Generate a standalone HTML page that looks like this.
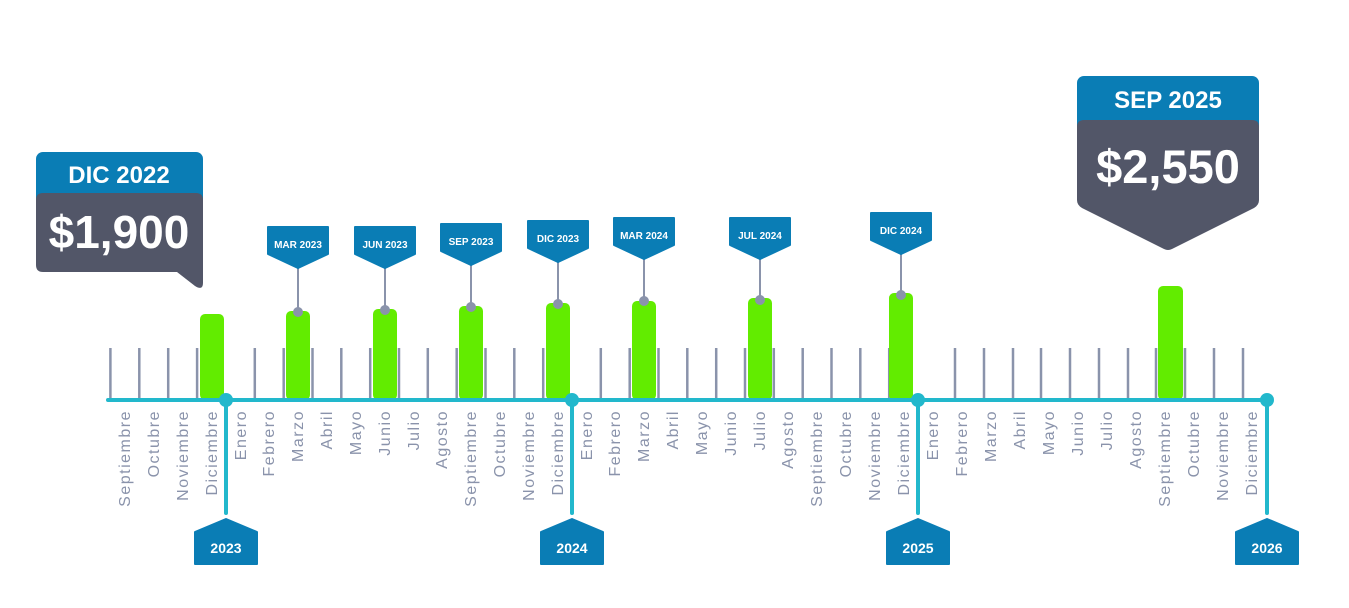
<!DOCTYPE html>
<html><head><meta charset="utf-8"><style>
html,body{margin:0;padding:0;background:#fff;}
svg{display:block;font-family:"Liberation Sans",sans-serif;}
.m{font-size:16px;fill:#8a93ab;text-anchor:end;letter-spacing:1.5px;}
.tg{font-size:10px;font-weight:bold;fill:#fff;text-anchor:middle;}
.yr{font-size:14px;font-weight:bold;fill:#fff;text-anchor:middle;}
</style></head><body>
<svg width="1349" height="608" viewBox="0 0 1349 608">
<g stroke="#8a93ab" stroke-width="2.5">
<line x1="110.4" y1="348" x2="110.4" y2="400"/><line x1="139.3" y1="348" x2="139.3" y2="400"/><line x1="168.2" y1="348" x2="168.2" y2="400"/><line x1="197.1" y1="348" x2="197.1" y2="400"/>
<line x1="254.8" y1="348" x2="254.8" y2="400"/><line x1="283.7" y1="348" x2="283.7" y2="400"/><line x1="312.5" y1="348" x2="312.5" y2="400"/><line x1="341.3" y1="348" x2="341.3" y2="400"/><line x1="370.2" y1="348" x2="370.2" y2="400"/><line x1="399" y1="348" x2="399" y2="400"/><line x1="427.8" y1="348" x2="427.8" y2="400"/><line x1="456.7" y1="348" x2="456.7" y2="400"/><line x1="485.5" y1="348" x2="485.5" y2="400"/><line x1="514.3" y1="348" x2="514.3" y2="400"/><line x1="543.2" y1="348" x2="543.2" y2="400"/>
<line x1="600.8" y1="348" x2="600.8" y2="400"/><line x1="629.7" y1="348" x2="629.7" y2="400"/><line x1="658.5" y1="348" x2="658.5" y2="400"/><line x1="687.3" y1="348" x2="687.3" y2="400"/><line x1="716.2" y1="348" x2="716.2" y2="400"/><line x1="745" y1="348" x2="745" y2="400"/><line x1="773.8" y1="348" x2="773.8" y2="400"/><line x1="802.7" y1="348" x2="802.7" y2="400"/><line x1="831.5" y1="348" x2="831.5" y2="400"/><line x1="860.3" y1="348" x2="860.3" y2="400"/><line x1="889.2" y1="348" x2="889.2" y2="400"/>
<line x1="955" y1="348" x2="955" y2="400"/><line x1="984" y1="348" x2="984" y2="400"/><line x1="1013" y1="348" x2="1013" y2="400"/><line x1="1041" y1="348" x2="1041" y2="400"/><line x1="1070" y1="348" x2="1070" y2="400"/><line x1="1099" y1="348" x2="1099" y2="400"/><line x1="1128" y1="348" x2="1128" y2="400"/><line x1="1156" y1="348" x2="1156" y2="400"/><line x1="1185" y1="348" x2="1185" y2="400"/><line x1="1214" y1="348" x2="1214" y2="400"/><line x1="1243" y1="348" x2="1243" y2="400"/>
</g>
<g fill="#62ec00">
<rect x="200" y="314" width="24" height="86" rx="5"/>
<rect x="286" y="311" width="24" height="89" rx="5"/>
<rect x="373" y="309" width="24" height="91" rx="5"/>
<rect x="459" y="306" width="24" height="94" rx="5"/>
<rect x="546" y="303" width="24" height="97" rx="5"/>
<rect x="632" y="301" width="24" height="99" rx="5"/>
<rect x="748" y="298" width="24" height="102" rx="5"/>
<rect x="889" y="293" width="24" height="107" rx="5"/>
<rect x="1158" y="286" width="25" height="114" rx="5"/>
</g>
<g stroke="#22b8cc" stroke-width="4" stroke-linecap="round" fill="#22b8cc">
<line x1="108" y1="400" x2="1267" y2="400"/>
<line x1="226" y1="400" x2="226" y2="513"/>
<line x1="572" y1="400" x2="572" y2="513"/>
<line x1="918" y1="400" x2="918" y2="513"/>
<line x1="1267" y1="400" x2="1267" y2="513"/>
<circle cx="226" cy="400" r="7" stroke="none"/><circle cx="572" cy="400" r="7" stroke="none"/><circle cx="918" cy="400" r="7" stroke="none"/><circle cx="1267" cy="400" r="7" stroke="none"/>
</g>
<g fill="#0a7db5" stroke="#0a7db5" stroke-width="2" stroke-linejoin="round">
<polygon points="195,532 226,519 257,532 257,564 195,564"/>
<polygon points="541,532 572,519 603,532 603,564 541,564"/>
<polygon points="887,532 918,519 949,532 949,564 887,564"/>
<polygon points="1236,532 1267,519 1298,532 1298,564 1236,564"/>
</g>
<text class="yr" x="226" y="553">2023</text><text class="yr" x="572" y="553">2024</text><text class="yr" x="918" y="553">2025</text><text class="yr" x="1267" y="553">2026</text>
<g class="m">
<text transform="translate(130,410) rotate(-90)">Septiembre</text>
<text transform="translate(159,410) rotate(-90)">Octubre</text>
<text transform="translate(188,410) rotate(-90)">Noviembre</text>
<text transform="translate(217,410) rotate(-90)">Diciembre</text>
<text transform="translate(246,410) rotate(-90)">Enero</text>
<text transform="translate(274,410) rotate(-90)">Febrero</text>
<text transform="translate(303,410) rotate(-90)">Marzo</text>
<text transform="translate(332,410) rotate(-90)">Abril</text>
<text transform="translate(361,410) rotate(-90)">Mayo</text>
<text transform="translate(390,410) rotate(-90)">Junio</text>
<text transform="translate(419,410) rotate(-90)">Julio</text>
<text transform="translate(447,410) rotate(-90)">Agosto</text>
<text transform="translate(476,410) rotate(-90)">Septiembre</text>
<text transform="translate(505,410) rotate(-90)">Octubre</text>
<text transform="translate(534,410) rotate(-90)">Noviembre</text>
<text transform="translate(563,410) rotate(-90)">Diciembre</text>
<text transform="translate(592,410) rotate(-90)">Enero</text>
<text transform="translate(620,410) rotate(-90)">Febrero</text>
<text transform="translate(649,410) rotate(-90)">Marzo</text>
<text transform="translate(678,410) rotate(-90)">Abril</text>
<text transform="translate(707,410) rotate(-90)">Mayo</text>
<text transform="translate(736,410) rotate(-90)">Junio</text>
<text transform="translate(765,410) rotate(-90)">Julio</text>
<text transform="translate(793,410) rotate(-90)">Agosto</text>
<text transform="translate(822,410) rotate(-90)">Septiembre</text>
<text transform="translate(851,410) rotate(-90)">Octubre</text>
<text transform="translate(880,410) rotate(-90)">Noviembre</text>
<text transform="translate(909,410) rotate(-90)">Diciembre</text>
<text transform="translate(938,410) rotate(-90)">Enero</text>
<text transform="translate(967,410) rotate(-90)">Febrero</text>
<text transform="translate(996,410) rotate(-90)">Marzo</text>
<text transform="translate(1025,410) rotate(-90)">Abril</text>
<text transform="translate(1054,410) rotate(-90)">Mayo</text>
<text transform="translate(1083,410) rotate(-90)">Junio</text>
<text transform="translate(1112,410) rotate(-90)">Julio</text>
<text transform="translate(1141,410) rotate(-90)">Agosto</text>
<text transform="translate(1170,410) rotate(-90)">Septiembre</text>
<text transform="translate(1199,410) rotate(-90)">Octubre</text>
<text transform="translate(1228,410) rotate(-90)">Noviembre</text>
<text transform="translate(1257,410) rotate(-90)">Diciembre</text>
</g>
<g stroke="#8a93ab" stroke-width="2">
<line x1="298" y1="268" x2="298" y2="311"/><line x1="385" y1="268" x2="385" y2="309"/><line x1="471" y1="265" x2="471" y2="306"/><line x1="558" y1="262" x2="558" y2="303"/><line x1="644" y1="259" x2="644" y2="301"/><line x1="760" y1="259" x2="760" y2="298"/><line x1="901" y1="254" x2="901" y2="293"/>
</g>
<g fill="#8a93ab">
<circle cx="298" cy="312" r="5"/><circle cx="385" cy="310" r="5"/><circle cx="471" cy="307" r="5"/><circle cx="558" cy="304" r="5"/><circle cx="644" cy="301" r="5"/><circle cx="760" cy="300" r="5"/><circle cx="901" cy="295" r="5"/>
</g>
<g fill="#0a7db5" stroke="#0a7db5" stroke-width="2" stroke-linejoin="round">
<polygon points="268,227 328,227 328,254 298,268 268,254"/>
<polygon points="355,227 415,227 415,254 385,268 355,254"/>
<polygon points="441,224 501,224 501,251 471,265 441,251"/>
<polygon points="528,221 588,221 588,248 558,262 528,248"/>
<polygon points="614,218 674,218 674,245 644,259 614,245"/>
<polygon points="730,218 790,218 790,245 760,259 730,245"/>
<polygon points="871,213 931,213 931,240 901,254 871,240"/>
</g>
<g class="tg">
<text x="298" y="248">MAR 2023</text><text x="385" y="248">JUN 2023</text><text x="471" y="245">SEP 2023</text><text x="558" y="242">DIC 2023</text><text x="644" y="239">MAR 2024</text><text x="760" y="239">JUL 2024</text><text x="901" y="234">DIC 2024</text>
</g>
<rect x="36" y="152" width="167" height="55" rx="7" fill="#0a7db5"/>
<path d="M43,193 H196 Q203,193 203,200 V283 Q203,291 195,286 L177,272 H43 Q36,272 36,265 V200 Q36,193 43,193 Z" fill="#525668"/>
<text x="119" y="183" font-size="24" font-weight="bold" fill="#fff" text-anchor="middle">DIC 2022</text>
<text x="119" y="248" font-size="46" font-weight="bold" fill="#fff" text-anchor="middle">$1,900</text>
<rect x="1077" y="76" width="182" height="60" rx="7" fill="#0a7db5"/>
<path d="M1084,120 H1252 Q1259,120 1259,127 V200 Q1259,205 1254,208 L1172,249 Q1168,251 1164,249 L1082,208 Q1077,205 1077,200 V127 Q1077,120 1084,120 Z" fill="#525668"/>
<text x="1168" y="108" font-size="24" font-weight="bold" fill="#fff" text-anchor="middle">SEP 2025</text>
<text x="1168" y="183" font-size="47" font-weight="bold" fill="#fff" text-anchor="middle">$2,550</text>
</svg>
</body></html>
